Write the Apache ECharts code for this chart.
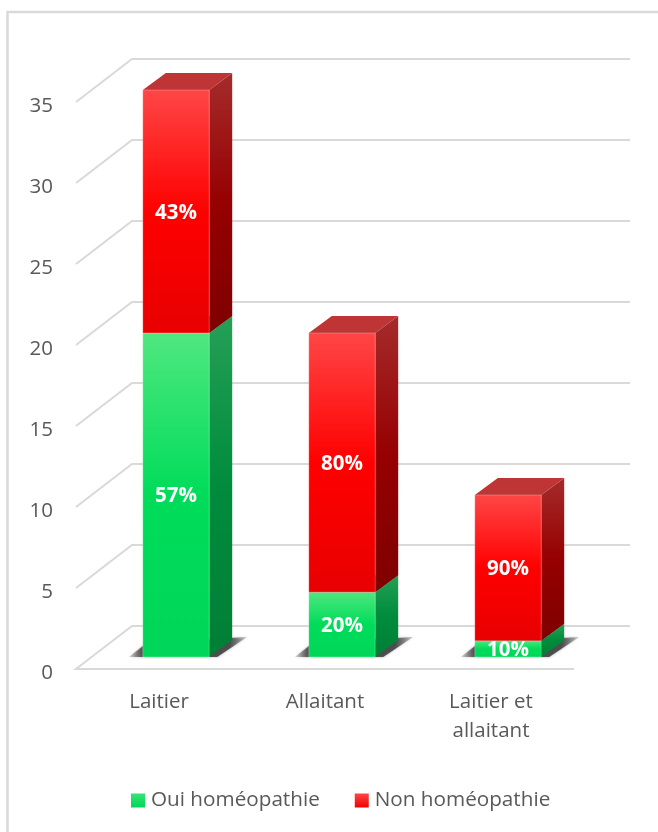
<!DOCTYPE html>
<html><head><meta charset="utf-8">
<style>html,body{margin:0;padding:0;background:#fff}#c{width:658px;height:832px}</style>
<script src="https://cdn.jsdelivr.net/npm/echarts@6/dist/echarts.min.js"></script>
</head><body><div id="c"></div>
<script>
const categories = ['Laitier', 'Allaitant', 'Laitier et\nallaitant'];
const ouiValues = [20, 4, 1];
const nonValues = [15, 16, 9];
const ouiLabels = ['57%', '20%', '10%'];
const nonLabels = ['43%', '80%', '90%'];
const yTicks = [0, 5, 10, 15, 20, 25, 30, 35];

const FONT = '"Open Sans"';
const WALL = {dx: 56, dy: -43};     // depth of the chart floor
const BAR_OFF = {dx: 17, dy: -12};  // bar front plane relative to axis plane
const BAR_DEPTH = {dx: 23, dy: -17};

const grad = (stops) => ({type: 'linear', x: 0, y: 0, x2: 0, y2: 1,
  colorStops: stops.map(s => ({offset: s[0], color: s[1]}))});
const RED = {
  front: grad([[0, '#ff4646'], [0.5, '#ff0000'], [1, '#e80000']]),
  side: grad([[0, '#a52b2b'], [0.5, '#960000'], [1, '#7f0000']]),
  top: '#bf3434', legend: grad([[0, '#ff4646'], [1, '#f00000']])
};
const GREEN = {
  front: grad([[0, '#4fe77f'], [0.5, '#00dc5a'], [1, '#00d659']]),
  side: grad([[0, '#25a057'], [0.5, '#008c3c'], [1, '#007f36']]),
  top: '#25a057', legend: grad([[0, '#36e573'], [1, '#00d659']])
};
const SHADOW_FILL = {type: 'linear', x: 0, y: 0, x2: 1, y2: 0, colorStops: [
  {offset: 0, color: 'rgba(60,60,60,0.15)'},
  {offset: 0.12, color: 'rgba(60,60,60,0.85)'},
  {offset: 0.85, color: 'rgba(60,60,60,0.85)'},
  {offset: 1, color: 'rgba(60,60,60,0.2)'}
]};

function gridItem(params, api) {
  const v = api.value(0);
  const cs = params.coordSys;
  const y = api.coord([0, v])[1];
  const x0 = cs.x, x1 = cs.x + cs.width;
  const st = {stroke: '#d9d9d9', lineWidth: 2, fill: null};
  const pts = v === 0
    ? [[x1, y], [x0, y], [x0 + WALL.dx, y + WALL.dy], [x1 + WALL.dx, y + WALL.dy]]
    : [[x0, y], [x0 + WALL.dx, y + WALL.dy], [x1 + WALL.dx, y + WALL.dy]];
  return {type: 'polyline', shape: {points: pts}, style: st, silent: true};
}

function shadowItem(params, api) {
  const i = api.value(0);
  const c = api.coord([i, 0]);
  const w = api.size([1, 0])[0] * 0.4;
  const xl = c[0] + BAR_OFF.dx - w / 2, xr = xl + w, yb = c[1] + BAR_OFF.dy;
  return {type: 'polygon', silent: true,
    shape: {points: [[xl - 14, yb], [xl + 4, yb - 14], [xr + 38, yb - 20], [xr + 8, yb]]},
    style: {fill: SHADOW_FILL, shadowBlur: 3, shadowColor: 'rgba(60,60,60,0.5)'}};
}

function barItem(palette, labels) {
  return function (params, api) {
    const i = api.value(0);
    const p0 = api.coord([i, api.value(1)]);
    const p1 = api.coord([i, api.value(2)]);
    const w = api.size([1, 0])[0] * 0.4;
    const xl = p0[0] + BAR_OFF.dx - w / 2, xr = xl + w;
    const yb = p0[1] + BAR_OFF.dy, yt = p1[1] + BAR_OFF.dy;
    const d = BAR_DEPTH;
    const edge = {stroke: 'rgba(255,255,255,0.25)', lineWidth: 1};
    return {type: 'group', children: [
      {type: 'polygon', shape: {points: [[xr, yt], [xr + d.dx, yt + d.dy], [xr + d.dx, yb + d.dy], [xr, yb]]},
        style: {fill: palette.side}},
      {type: 'polygon', shape: {points: [[xl, yt], [xl + d.dx, yt + d.dy], [xr + d.dx, yt + d.dy], [xr, yt]]},
        style: {fill: palette.top}},
      {type: 'rect', shape: {x: xl, y: yt, width: w, height: yb - yt},
        style: Object.assign({fill: palette.front}, edge)},
      {type: 'text', style: {text: labels[i], x: (xl + xr) / 2, y: (yt + yb) / 2 + 1.5,
        fill: '#fff', font: 'bold 20.5px ' + FONT, textAlign: 'center', textVerticalAlign: 'middle'}}
    ]};
  };
}

const ouiData = ouiValues.map((v, i) => [i, 0, v]);
const nonData = nonValues.map((v, i) => [i, ouiValues[i], ouiValues[i] + v]);

const chart = echarts.init(document.getElementById('c'), null, {renderer: 'canvas'});
chart.setOption({
  animation: false,
  backgroundColor: '#fff',
  graphic: [{type: 'polyline', z: -10, silent: true,
    shape: {points: [[7.5, 832], [7.5, 12], [658, 12]]},
    style: {fill: null, stroke: '#d9d9d9', lineWidth: 2.5}}],
  grid: {left: 76, right: 84, top: 102, bottom: 163},
  legend: {
    left: 131, top: 790, padding: 0, itemWidth: 14, itemHeight: 14, itemGap: 35,
    icon: 'rect', selectedMode: false,
    data: ['Oui homéopathie', 'Non homéopathie'],
    textStyle: {fontFamily: FONT, fontSize: 20.7, color: '#595959', padding: [0, 0, 0, 1]}
  },
  xAxis: {
    type: 'category', data: categories,
    axisLine: {show: false}, axisTick: {show: false},
    axisLabel: {fontFamily: FONT, fontSize: 20.5, color: '#595959', margin: 19, lineHeight: 29}
  },
  yAxis: {
    type: 'value', min: 0, max: 35, interval: 5,
    splitLine: {show: false}, axisLine: {show: false}, axisTick: {show: false},
    axisLabel: {fontFamily: FONT, fontSize: 20.5, color: '#595959', margin: 23,
      verticalAlign: 'top', lineHeight: 8}
  },
  series: [
    {type: 'custom', name: 'grid', silent: true, z: 1, clip: false, renderItem: gridItem,
      data: yTicks.map(v => [v]), encode: {y: 0}, tooltip: {show: false}},
    {type: 'custom', name: 'shadow', silent: true, z: 2, clip: false, renderItem: shadowItem,
      data: categories.map((c, i) => [i]), encode: {x: 0}},
    {type: 'custom', name: 'Oui homéopathie', z: 3, clip: false, renderItem: barItem(GREEN, ouiLabels),
      itemStyle: {color: GREEN.legend}, data: ouiData, encode: {x: 0, y: [1, 2]}},
    {type: 'custom', name: 'Non homéopathie', z: 4, clip: false, renderItem: barItem(RED, nonLabels),
      itemStyle: {color: RED.legend}, data: nonData, encode: {x: 0, y: [1, 2]}}
  ]
});
</script></body></html>
